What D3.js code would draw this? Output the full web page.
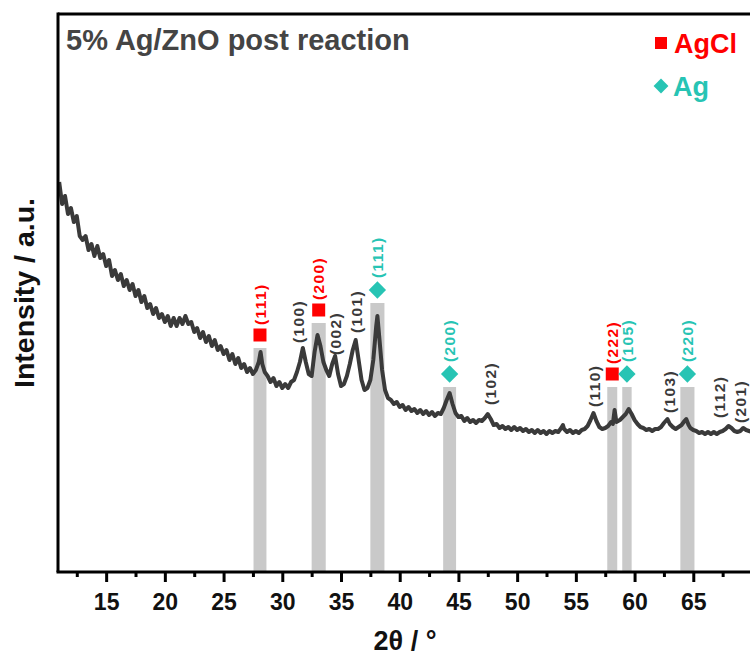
<!DOCTYPE html>
<html>
<head>
<meta charset="utf-8">
<script src="https://cdn.jsdelivr.net/npm/d3@7"></script>
<style>
  body { margin: 0; background: #fff; }
  svg { display: block; font-family: "Liberation Sans", Arial, sans-serif; }
</style>
</head>
<body>
<svg id="chart" width="750" height="659"></svg>
<script>
// XRD scan, [2theta, intensity a.u.]
var scan = [
  [11.00,390],[11.25,368],[11.50,376],[11.75,358],[12.00,364],[12.25,350],[12.50,356],[12.75,336],
  [13.00,332],[13.25,336],[13.50,322],[13.75,328],[14.00,316],[14.25,326],[14.50,314],[14.75,318],
  [15.00,306],[15.25,312],[15.50,296],[15.75,302],[16.00,292],[16.25,298],[16.50,286],[16.75,292],
  [17.00,282],[17.25,288],[17.50,276],[17.75,282],[18.00,270],[18.25,276],[18.50,264],[18.75,268],
  [19.00,258],[19.25,264],[19.50,254],[19.75,258],[20.00,250],[20.25,256],[20.50,246],[20.75,254],
  [21.00,246],[21.25,254],[21.50,248],[21.75,256],[22.00,248],[22.25,250],[22.50,240],[22.75,244],
  [23.00,234],[23.25,240],[23.50,230],[23.75,236],[24.00,226],[24.25,232],[24.50,222],[24.75,226],
  [25.00,218],[25.25,222],[25.50,212],[25.75,218],[26.00,208],[26.25,214],[26.50,204],[26.75,208],
  [27.00,200],[27.25,204],[27.50,198],[27.75,202],[28.00,210],[28.15,220],[28.30,208],[28.50,200],
  [28.75,196],[29.00,190],[29.25,194],[29.50,186],[29.75,190],[30.00,184],[30.25,188],[30.50,184],
  [30.75,190],[31.00,192],[31.25,200],[31.50,210],[31.75,224],[32.00,210],[32.25,198],[32.50,196],
  [32.75,220],[33.00,237],[33.25,226],[33.50,210],[33.75,202],[34.00,196],[34.25,208],[34.50,216],
  [34.75,198],[35.00,186],[35.25,188],[35.50,196],[35.75,208],[36.00,222],[36.25,232],[36.50,212],
  [36.75,192],[37.00,182],[37.25,184],[37.50,192],[37.75,212],[38.00,246],[38.10,256],[38.25,236],
  [38.50,202],[38.75,182],[39.00,174],[39.25,172],[39.50,168],[39.75,170],[40.00,165],[40.25,167],
  [40.50,162],[40.75,165],[41.00,161],[41.25,163],[41.50,159],[41.75,162],[42.00,158],[42.25,161],
  [42.50,157],[42.75,160],[43.00,156],[43.25,159],[43.50,158],[43.75,164],[44.00,172],[44.25,179],
  [44.50,168],[44.75,159],[45.00,155],[45.25,156],[45.50,151],[45.75,154],[46.00,150],[46.25,152],
  [46.50,149],[46.75,152],[47.00,151],[47.25,154],[47.50,158],[47.75,153],[48.00,147],[48.25,148],
  [48.50,144],[48.75,146],[49.00,143],[49.25,145],[49.50,142],[49.75,145],[50.00,142],[50.25,144],
  [50.50,141],[50.75,143],[51.00,140],[51.25,142],[51.50,139],[51.75,142],[52.00,139],[52.25,141],
  [52.50,138],[52.75,141],[53.00,139],[53.25,141],[53.50,140],[53.75,144],[53.90,147],[54.00,143],
  [54.25,140],[54.50,142],[54.75,139],[55.00,141],[55.25,139],[55.50,142],[55.75,143],[56.00,146],
  [56.25,152],[56.50,159],[56.75,151],[57.00,145],[57.25,143],[57.50,144],[57.75,146],[58.00,150],
  [58.15,148],[58.30,162],[58.45,150],[58.75,152],[59.00,155],[59.25,158],[59.50,163],[59.75,158],
  [60.00,152],[60.25,148],[60.50,145],[60.75,144],[61.00,142],[61.25,143],[61.50,141],[61.75,143],
  [62.00,143],[62.25,145],[62.50,149],[62.80,153],[63.00,148],[63.25,145],[63.50,143],[63.75,145],
  [64.00,147],[64.25,151],[64.40,153],[64.60,147],[64.75,144],[65.00,142],[65.25,141],[65.50,139],
  [65.75,140],[66.00,138],[66.25,140],[66.50,138],[66.75,140],[67.00,138],[67.25,140],[67.50,141],
  [67.75,143],[68.00,146],[68.25,144],[68.50,141],[68.75,140],[69.00,141],[69.25,144],[69.50,142],
  [69.75,141],[70.00,140]
];

// reference reflections (AgCl / Ag)
var refPhase = ["AgCl", "AgCl", "Ag", "Ag", "AgCl", "Ag", "Ag"];
var refHkl = ["(111)", "(200)", "(111)", "(200)", "(222)", "(105)", "(220)"];
var refPos = [28.1, 33.1, 38.1, 44.25, 58.1, 59.35, 64.5];
var refWidth = [1.1, 1.2, 1.2, 1.1, 0.85, 0.8, 1.2];
var refHeight = [224, 249, 269, 185, 185, 185, 185];

// ZnO peak labels
var znoHkl = ["(100)", "(002)", "(101)", "(102)", "(110)", "(103)", "(112)", "(201)"];
var znoPos = [31.4, 34.55, 36.35, 47.75, 56.6, 62.95, 67.2, 69.0];
var znoLabelAt = [229, 217, 239, 167, 165, 159, 154, 149];

var majorTicks = [15, 20, 25, 30, 35, 40, 45, 50, 55, 60, 65];
var minorTicks = [12.5, 17.5, 22.5, 27.5, 32.5, 37.5, 42.5, 47.5, 52.5, 57.5, 62.5, 67.5];

var title = "5% Ag/ZnO post reaction";
var legendNames = ["AgCl", "Ag"];

var colors = { AgCl: "#ff0000", Ag: "#27c4b4" };

var mLeft = 58, mTop = 14, mBottom = 572, mRight = 752;

var svg = d3.select("#chart");

var x = d3.scaleLinear().domain([10.9, 70]).range([mLeft, mRight]);
var y = d3.scaleLinear().domain([0, 558]).range([mBottom, mTop]);

svg.append("clipPath").attr("id", "clip")
  .append("rect").attr("x", mLeft).attr("y", mTop).attr("width", mRight - mLeft).attr("height", mBottom - mTop);

var plot = svg.append("g").attr("clip-path", "url(#clip)");

// gray reference bars
plot.selectAll(".bar").data(refPos).enter()
  .append("rect")
  .attr("class", "bar")
  .attr("x", function(d, i) { return x(d - refWidth[i] / 2); })
  .attr("width", function(d, i) { return x(d + refWidth[i] / 2) - x(d - refWidth[i] / 2); })
  .attr("y", function(d, i) { return y(refHeight[i]); })
  .attr("height", function(d, i) { return y(0) - y(refHeight[i]); })
  .attr("fill", "#c9c9c9");

// pattern
var line = d3.line()
  .x(function(d) { return x(d[0]); })
  .y(function(d) { return y(d[1]); });

plot.append("path")
  .datum(scan)
  .attr("d", line)
  .attr("fill", "none")
  .attr("stroke", "#3a3a3a")
  .attr("stroke-width", 4)
  .attr("stroke-linejoin", "round");

// markers above bars
var square = d3.symbol().type(d3.symbolSquare).size(169);
var diamond = d3.symbol().type(d3.symbolSquare).size(150);

svg.selectAll(".marker").data(refPos).enter()
  .append("path")
  .attr("class", "marker")
  .attr("d", function(d, i) { return refPhase[i] == "AgCl" ? square() : diamond(); })
  .attr("transform", function(d, i) {
    var t = "translate(" + x(d) + "," + (y(refHeight[i]) - 13) + ")";
    return refPhase[i] == "AgCl" ? t : t + " rotate(45)";
  })
  .attr("fill", function(d, i) { return colors[refPhase[i]]; });

svg.selectAll(".reflabel").data(refPos).enter()
  .append("text")
  .attr("class", "reflabel")
  .attr("transform", function(d, i) {
    var gap = refPhase[i] == "AgCl" ? 23 : 25;
    return "translate(" + x(d) + "," + (y(refHeight[i]) - gap) + ") rotate(-90)";
  })
  .attr("dy", "0.36em")
  .attr("font-size", 15.5)
  .attr("letter-spacing", 1.4)
  .attr("font-weight", "bold")
  .attr("fill", function(d, i) { return colors[refPhase[i]]; })
  .text(function(d, i) { return refHkl[i]; });

svg.selectAll(".znolabel").data(znoPos).enter()
  .append("text")
  .attr("class", "znolabel")
  .attr("transform", function(d, i) {
    return "translate(" + x(d) + "," + y(znoLabelAt[i]) + ") rotate(-90)";
  })
  .attr("dy", "0.36em")
  .attr("font-size", 15.5)
  .attr("letter-spacing", 1.4)
  .attr("font-weight", "bold")
  .attr("fill", "#3a3a3a")
  .text(function(d, i) { return znoHkl[i]; });

// frame
svg.append("line").attr("x1", mLeft).attr("x2", 750).attr("y1", mTop).attr("y2", mTop)
  .attr("stroke", "#000").attr("stroke-width", 3);
svg.append("line").attr("x1", mLeft).attr("x2", mLeft).attr("y1", mTop - 1.5).attr("y2", mBottom)
  .attr("stroke", "#000").attr("stroke-width", 3);

// x axis
var xAxis = d3.axisBottom(x).tickValues(majorTicks).tickSize(10).tickPadding(12).tickFormat(d3.format("d"));
var gx = svg.append("g").attr("transform", "translate(0," + mBottom + ")").call(xAxis);
gx.select(".domain").attr("stroke-width", 3).attr("d", "M" + (mLeft - 1.5) + ",0H750");
gx.selectAll(".tick line").attr("stroke-width", 3);
gx.selectAll(".tick text").attr("font-size", 23).attr("font-weight", "bold")
  .attr("font-family", "Liberation Sans, Arial, sans-serif").attr("fill", "#111");

var xMinor = d3.axisBottom(x).tickValues(minorTicks).tickSize(5).tickFormat("");
var gm = svg.append("g").attr("transform", "translate(0," + mBottom + ")").call(xMinor);
gm.select(".domain").remove();
gm.selectAll(".tick line").attr("stroke-width", 3);

// axis titles
svg.append("text")
  .attr("x", 405).attr("y", 650)
  .attr("text-anchor", "middle")
  .attr("font-size", 27).attr("font-weight", "bold").attr("fill", "#111")
  .text("2θ / °");

svg.append("text")
  .attr("transform", "translate(34,293) rotate(-90)")
  .attr("text-anchor", "middle")
  .attr("font-size", 28.5).attr("font-weight", "bold").attr("fill", "#111")
  .text("Intensity / a.u.");

// title and legend
svg.append("text")
  .attr("x", 66).attr("y", 50)
  .attr("font-size", 29).attr("font-weight", "bold").attr("fill", "#444")
  .text(title);

svg.append("path").attr("d", d3.symbol().type(d3.symbolSquare).size(144)())
  .attr("transform", "translate(661,43)").attr("fill", colors.AgCl);
svg.append("text").attr("x", 674).attr("y", 53)
  .attr("font-size", 27).attr("font-weight", "bold").attr("fill", colors.AgCl)
  .text(legendNames[0]);

svg.append("path").attr("d", d3.symbol().type(d3.symbolSquare).size(110)())
  .attr("transform", "translate(661,86) rotate(45)").attr("fill", colors.Ag);
svg.append("text").attr("x", 673).attr("y", 96)
  .attr("font-size", 27).attr("font-weight", "bold").attr("fill", colors.Ag)
  .text(legendNames[1]);
</script>
</body>
</html>
